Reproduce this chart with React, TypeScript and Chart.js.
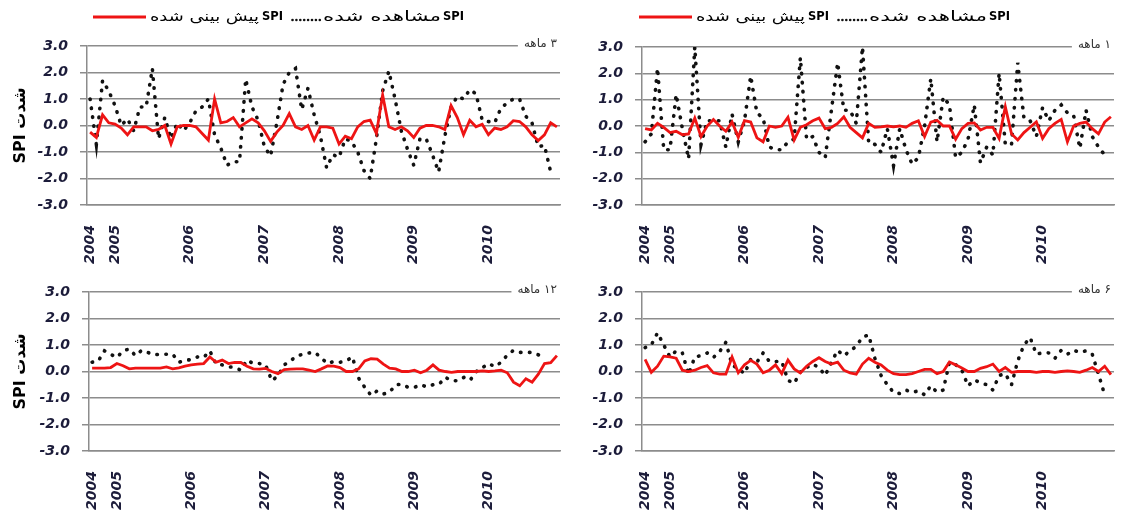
import { useEffect, useRef } from "react";
import { Chart, registerables } from "chart.js";

Chart.register(...registerables);

// ---------- DATA ----------
const monthCount = 76; // Sep 2004 .. Dec 2010, monthly
const yearTickIndex = [0, 4, 16, 28, 40, 52, 64];
const yearTickText = ["2004", "2005", "2006", "2007", "2008", "2009", "2010"];

const legendSpi = "SPI";
const legendObserved = "مشاهده شده";
const legendPredicted = "پیش بینی شده";
const yAxisTitle = "شدت SPI";

const title1 = "۱ ماهه";
const title3 = "۳ ماهه";
const title6 = "۶ ماهه";
const title12 = "۱۲ ماهه";

// 3-month SPI
const observed3 = [1.0, -0.7, 1.7, 1.3, 0.75, 0.0, 0.25, -0.2, 0.7, 0.7,
  2.15, -0.5, 0.3, -0.5, 0.1, -0.2, 0.1, 0.55, 0.7, 1.0,
  -0.35, -0.85, -1.5, -1.37, -1.37, 1.75, 0.7, 0.2, -0.8, -1.15,
  0.1, 1.55, 2.0, 2.15, 0.6, 1.4, 0.4, -0.4, -1.6, -1.1,
  -1.2, -0.5, -0.6, -1.0, -1.7, -2.0, -0.5, 1.3, 2.05, 1.0,
  -0.2, -0.9, -1.5, -0.5, -0.5, -1.1, -1.75, -0.4, 0.7, 1.1,
  1.0, 1.35, 1.2, 0.2, 0.15, 0.1, 0.65, 0.85, 1.0, 1.0,
  0.35, 0.1, -0.8, -0.75, -1.75, null];
const predicted3 = [-0.25, -0.45, 0.4, 0.1, 0.05, -0.1, -0.35, -0.05, -0.05, -0.05,
  -0.2, -0.15, 0.0, -0.7, -0.05, 0.0, 0.0, -0.05, -0.3, -0.55,
  1.0, 0.1, 0.15, 0.3, -0.05, 0.1, 0.25, 0.1, -0.2, -0.6,
  -0.25, 0.0, 0.45, -0.05, -0.15, 0.0, -0.55, -0.05, -0.05, -0.1,
  -0.7, -0.4, -0.5, -0.05, 0.15, 0.2, -0.3, 1.15, -0.05, -0.15,
  -0.05, -0.2, -0.45, -0.1, 0.0, 0.0, -0.05, -0.15, 0.75, 0.3,
  -0.35, 0.2, -0.05, 0.05, -0.35, -0.1, -0.15, -0.05, 0.18, 0.15,
  -0.05, -0.35, -0.57, -0.35, 0.1, -0.05];

// 1-month SPI
const observed1 = [-0.6, -0.3, 2.2, -0.9, -0.9, 1.2, -0.1, -1.25, 3.0, -0.7,
  0.2, 0.2, 0.2, -0.8, 0.45, -0.6, 0.2, 1.9, 0.5, 0.3,
  -0.8, -0.9, -0.9, -0.6, -0.5, 2.6, -0.5, -0.4, -1.0, -1.2,
  0.6, 2.4, 0.6, 0.6, 0.1, 3.0, -0.65, -0.7, -1.0, -0.1,
  -1.5, -0.1, -0.9, -1.45, -1.2, 0.0, 1.8, -0.6, 1.1, 0.8,
  -1.2, -1.0, -0.5, 0.8, -1.4, -0.8, -1.1, 2.0, -0.7, -0.7,
  2.4, 0.3, 0.2, -0.4, 0.7, 0.2, 0.6, 0.8, 0.5, 0.4,
  -0.85, 0.6, -0.4, -0.8, -1.1, null];
const predicted1 = [-0.1, -0.15, 0.1, -0.05, -0.25, -0.2, -0.33, -0.3, 0.3, -0.4,
  0.0, 0.25, 0.0, -0.2, 0.15, -0.43, 0.2, 0.15, -0.45, -0.6,
  0.0, -0.05, 0.0, 0.33, -0.53, -0.05, 0.05, 0.2, 0.3, -0.1,
  -0.05, 0.1, 0.35, -0.05, -0.25, -0.45, 0.1, -0.05, -0.03, 0.0,
  -0.03, 0.0, -0.05, 0.1, 0.2, -0.4, 0.15, 0.22, 0.0, 0.0,
  -0.5, -0.1, 0.1, 0.12, -0.15, -0.05, -0.05, -0.47, 0.73, -0.3,
  -0.53, -0.25, -0.05, 0.16, -0.47, -0.1, 0.1, 0.25, -0.6, 0.0,
  0.1, 0.15, -0.1, -0.3, 0.15, 0.35];

// 12-month SPI
const observed12 = [0.35, 0.4, 0.78, 0.65, 0.53, 0.78, 0.85, 0.6, 0.8, 0.72,
  0.63, 0.65, 0.65, 0.65, 0.35, 0.42, 0.45, 0.55, 0.53, 0.78,
  0.28, 0.25, 0.18, 0.15, 0.05, 0.43, 0.3, 0.3, 0.25, -0.35,
  -0.16, 0.25, 0.4, 0.58, 0.65, 0.7, 0.72, 0.5, 0.3, 0.38,
  0.35, 0.4, 0.55, -0.25, -0.6, -0.9, -0.73, -0.85, -0.78, -0.5,
  -0.48, -0.6, -0.6, -0.5, -0.58, -0.5, -0.48, -0.22, -0.35, -0.35,
  -0.22, -0.33, 0.0, 0.15, 0.3, 0.18, 0.35, 0.62, 0.8, 0.72,
  0.72, 0.72, 0.63, 0.5, null, null];
const predicted12 = [0.13, 0.13, 0.13, 0.15, 0.3, 0.22, 0.1, 0.13, 0.13, 0.13,
  0.13, 0.13, 0.17, 0.1, 0.14, 0.2, 0.25, 0.28, 0.3, 0.55,
  0.35, 0.43, 0.3, 0.34, 0.34, 0.2, 0.1, 0.09, 0.12, 0.0,
  -0.08, 0.07, 0.09, 0.1, 0.1, 0.05, 0.0, 0.1, 0.21, 0.2,
  0.15, 0.0, 0.0, 0.1, 0.4, 0.48, 0.47, 0.28, 0.13, 0.1,
  0.0, 0.0, 0.05, -0.05, 0.05, 0.25, 0.05, 0.0, -0.03, 0.0,
  0.0, 0.0, 0.0, 0.02, 0.0, 0.02, 0.05, -0.05, -0.4, -0.54,
  -0.27, -0.4, -0.1, 0.3, 0.33, 0.6];

// 6-month SPI
const observed6 = [0.9, 1.0, 1.46, 1.0, 0.55, 0.78, 0.7, -0.12, 0.55, 0.6,
  0.7, 0.53, 0.75, 1.1, 0.25, 0.1, -0.08, 0.45, 0.35, 0.7,
  0.38, 0.38, 0.38, -0.33, -0.45, -0.02, 0.15, 0.28, 0.15, -0.15,
  0.35, 0.8, 0.59, 0.78, 0.95, 1.3, 1.38, 0.5, -0.15, -0.5,
  -0.79, -0.83, -0.7, -0.79, -0.73, -0.88, -0.54, -0.78, -0.7, 0.34,
  0.26, 0.05, -0.54, -0.32, -0.42, -0.5, -0.7, -0.15, -0.08, -0.5,
  0.4, 1.0, 1.28, 0.65, 0.71, 0.7, 0.5, 0.8, 0.65, 0.8,
  0.72, 0.78, 0.65, -0.1, -0.88, null];
const predicted6 = [0.46, -0.03, 0.2, 0.58, 0.55, 0.5, 0.05, 0.0, 0.05, 0.15,
  0.22, -0.05, -0.1, -0.1, 0.55, -0.05, 0.25, 0.42, 0.28, -0.05,
  0.05, 0.25, -0.08, 0.43, 0.1, -0.05, 0.2, 0.38, 0.52, 0.38,
  0.28, 0.35, 0.05, -0.05, -0.1, 0.28, 0.5, 0.35, 0.25, 0.05,
  -0.08, -0.12, -0.12, -0.08, 0.0, 0.08, 0.08, -0.08, 0.0, 0.36,
  0.25, 0.13, 0.0, 0.0, 0.12, 0.18, 0.28, 0.0, 0.15, -0.03,
  0.0, 0.0, 0.0, -0.03, 0.0, 0.0, -0.03, 0.0, 0.02, 0.0,
  -0.03, 0.05, 0.15, 0.0, 0.2, -0.12];

// ---------- STYLE ----------
const RED = "#ee1414";
const BLACK = "#111111";
const GRID = "#8c8c8c";
const TICK = "#1c1c3a";
const FA = '"DejaVu Sans", sans-serif';

const xLabels: string[] = Array.from({ length: monthCount }, () => "");
yearTickIndex.forEach((idx, k) => { xLabels[idx] = yearTickText[k]; });

function drawFitted(ctx: CanvasRenderingContext2D, text: string, x: number, y: number, targetW: number) {
  const w = ctx.measureText(text).width;
  const sx = w > 0 ? targetW / w : 1;
  ctx.save();
  ctx.translate(x, y);
  ctx.scale(sx, 1);
  ctx.fillText(text, 0, 0);
  ctx.restore();
}

const decorPlugin = {
  id: "decor",
  afterDraw(chart: any, _args: any, opts: any) {
    const ctx: CanvasRenderingContext2D = chart.ctx;
    const area = chart.chartArea;
    ctx.save();
    if (opts.title) {
      ctx.font = `12px ${FA}`;
      (ctx as any).direction = "rtl";
      ctx.textAlign = "right";
      ctx.textBaseline = "middle";
      const w = ctx.measureText(opts.title).width;
      const xr = area.right - 3;
      const y = area.top - 2;
      ctx.fillStyle = "#ffffff";
      ctx.fillRect(xr - w - 6, y - 8, area.right + 12 - (xr - w - 6), 13);
      ctx.fillStyle = "#333333";
      ctx.fillText(opts.title, xr, y);
    }
    if (opts.yTitle) {
      ctx.save();
      ctx.translate(opts.yTitleX, (area.top + area.bottom) / 2);
      ctx.rotate(-Math.PI / 2);
      ctx.font = `bold 16px ${FA}`;
      (ctx as any).direction = "rtl";
      ctx.textAlign = "center";
      ctx.textBaseline = "middle";
      ctx.fillStyle = "#000000";
      ctx.fillText(opts.yTitle, 0, 0);
      ctx.restore();
    }
    if (opts.legend) {
      const { x0, y } = opts.legend;
      const reg = `14px ${FA}`;
      const bold = `bold 13px ${FA}`;
      (ctx as any).direction = "rtl";
      ctx.textBaseline = "middle";
      ctx.textAlign = "left";
      const wPred = 109, wObs = 118, wSpi = 21;
      const redLen = 53, dotLen = 30;
      let x = x0;
      ctx.strokeStyle = RED;
      ctx.lineWidth = 3;
      ctx.beginPath();
      ctx.moveTo(x, y);
      ctx.lineTo(x + redLen, y);
      ctx.stroke();
      x += redLen + 4;
      ctx.fillStyle = "#000000";
      ctx.font = reg;
      drawFitted(ctx, legendPredicted, x, y, wPred);
      x += wPred + 3;
      ctx.font = bold;
      drawFitted(ctx, legendSpi, x, y, wSpi);
      x += wSpi + 8;
      ctx.fillStyle = BLACK;
      for (let k = 0; k < 8; k++) {
        ctx.beginPath();
        ctx.arc(x + 1.5 + k * 3.9, y + 3, 1.3, 0, Math.PI * 2);
        ctx.fill();
      }
      x += dotLen + 2;
      ctx.fillStyle = "#000000";
      ctx.font = reg;
      drawFitted(ctx, legendObserved, x, y, wObs);
      x += wObs + 2;
      ctx.font = bold;
      drawFitted(ctx, legendSpi, x, y, wSpi);
    }
    ctx.restore();
  },
};

type PanelCfg = {
  left: number; top: number; w: number; h: number;
  padding: { left: number; top: number; right: number; bottom: number };
  yAxisWidth: number; xAxisHeight: number;
  observed: (number | null)[]; predicted: number[];
  title: string; yTitle?: string; legend?: { x0: number; y: number };
};

const tickFont = { family: FA, size: 14, weight: "bold" as const, style: "italic" as const };

function makeConfig(p: PanelCfg): any {
  return {
    type: "line",
    data: {
      labels: xLabels,
      datasets: [
        {
          label: legendPredicted,
          data: p.predicted,
          borderColor: RED,
          borderWidth: 2.8,
          pointRadius: 0,
          tension: 0,
          fill: false,
        },
        {
          label: legendObserved,
          data: p.observed,
          borderColor: BLACK,
          borderWidth: 3.6,
          borderDash: [0.5, 8.5],
          borderCapStyle: "round",
          pointRadius: 0,
          tension: 0,
          fill: false,
          spanGaps: false,
        },
      ],
    },
    options: {
      animation: false,
      responsive: false,
      maintainAspectRatio: false,
      layout: { padding: p.padding },
      events: [],
      plugins: {
        legend: { display: false },
        tooltip: { enabled: false },
        decor: { title: p.title, yTitle: p.yTitle, yTitleX: 21, legend: p.legend },
      },
      scales: {
        x: {
          type: "category",
          offset: true,
          grid: { display: false, drawTicks: false },
          border: { display: true, color: GRID, width: 1.5 },
          ticks: {
            autoSkip: false,
            maxRotation: 90,
            minRotation: 90,
            padding: 20,
            color: TICK,
            font: tickFont,
          },
          afterFit: (s: any) => {
            s.height = p.xAxisHeight;
            s.paddingLeft = 0;
            s.paddingRight = 0;
          },
        },
        y: {
          min: -3,
          max: 3,
          ticks: {
            stepSize: 1,
            padding: 12,
            color: TICK,
            font: tickFont,
            callback: (v: any) => Number(v).toFixed(1),
          },
          grid: { color: GRID, lineWidth: 1.5, tickLength: 7, drawTicks: true },
          border: { display: true, color: GRID, width: 1.5 },
          afterFit: (s: any) => {
            s.width = p.yAxisWidth;
            s.paddingTop = 0;
            s.paddingBottom = 0;
          },
        },
      },
    },
    plugins: [decorPlugin],
  };
}

const panels: PanelCfg[] = [
  {
    left: 0, top: 0, w: 563, h: 280,
    padding: { left: 0, top: 46, right: 3, bottom: 0 },
    yAxisWidth: 87, xAxisHeight: 75,
    observed: observed3, predicted: predicted3,
    title: title3, yTitle: yAxisTitle, legend: { x0: 93, y: 17 },
  },
  {
    left: 563, top: 0, w: 563, h: 280,
    padding: { left: 0, top: 47, right: 12, bottom: 0 },
    yAxisWidth: 79, xAxisHeight: 75,
    observed: observed1, predicted: predicted1,
    title: title1, legend: { x0: 76, y: 17 },
  },
  {
    left: 0, top: 280, w: 563, h: 231,
    padding: { left: 0, top: 12, right: 3, bottom: 0 },
    yAxisWidth: 89, xAxisHeight: 60,
    observed: observed12, predicted: predicted12,
    title: title12, yTitle: yAxisTitle,
  },
  {
    left: 563, top: 280, w: 563, h: 231,
    padding: { left: 0, top: 12, right: 12, bottom: 0 },
    yAxisWidth: 79, xAxisHeight: 60,
    observed: observed6, predicted: predicted6,
    title: title6,
  },
];

function Panel({ cfg }: { cfg: PanelCfg }) {
  const ref = useRef<HTMLCanvasElement>(null);
  useEffect(() => {
    if (!ref.current) return;
    const chart = new Chart(ref.current, makeConfig(cfg));
    return () => chart.destroy();
  }, [cfg]);
  return (
    <canvas
      ref={ref}
      width={cfg.w}
      height={cfg.h}
      style={{ position: "absolute", left: cfg.left, top: cfg.top, width: cfg.w, height: cfg.h }}
    />
  );
}

export default function App() {
  return (
    <div style={{ position: "absolute", left: 0, top: 0, width: 1126, height: 511, background: "#ffffff", overflow: "hidden" }}>
      {panels.map((p, i) => (
        <Panel key={i} cfg={p} />
      ))}
    </div>
  );
}
